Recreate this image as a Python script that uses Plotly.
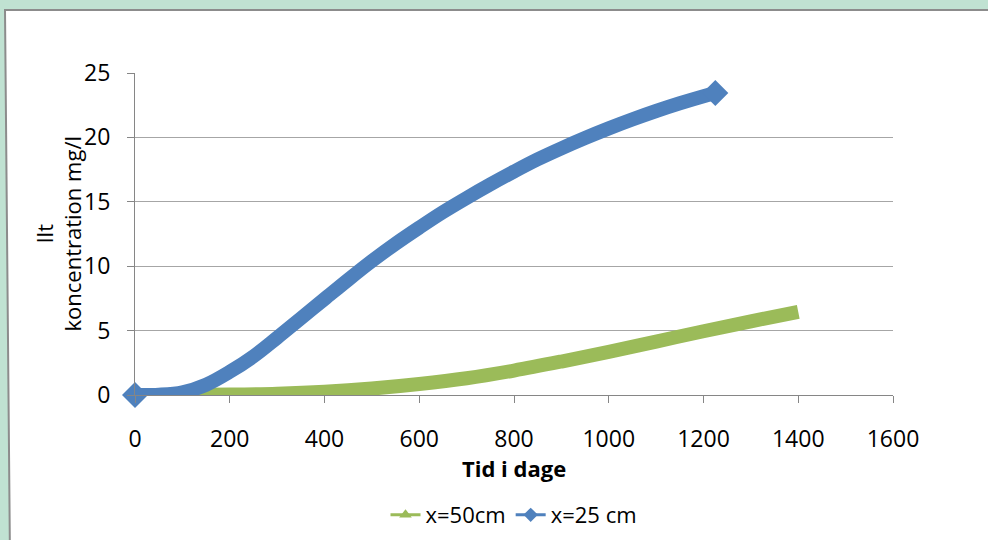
import plotly.graph_objects as go

# ---- data ----
days_50 = [0, 100, 200, 300, 400, 500, 600, 700, 800, 900, 1000, 1100, 1200, 1300, 1400]
conc_50 = [0, 0.0, 0.03, 0.1, 0.25, 0.5, 0.85, 1.3, 1.9, 2.6, 3.35, 4.15, 4.95, 5.72, 6.45]

days_25 = [0, 50, 100, 150, 200, 250, 300, 350, 400, 450, 500, 550, 600, 650, 700, 750,
           800, 850, 900, 950, 1000, 1050, 1100, 1150, 1200, 1225]
conc_25 = [0, 0.02, 0.2, 0.8, 1.8, 3.0, 4.45, 5.95, 7.45, 8.95, 10.4, 11.75, 13.0, 14.2, 15.3, 16.35,
           17.35, 18.3, 19.15, 19.95, 20.7, 21.4, 22.05, 22.65, 23.2, 23.45]

series_names = ["x=50cm", "x=25 cm"]
x_ticks = [0, 200, 400, 600, 800, 1000, 1200, 1400, 1600]
y_ticks = [0, 5, 10, 15, 20, 25]
x_title = "Tid i dage"
y_title = "Ilt<br>koncentration mg/l"

GREEN = "#9bbb59"
BLUE = "#4f81bd"
BG = "#c0e2d2"
FONT = "Open Sans, sans-serif"

W, H = 988, 540
L, R, T, B = 135, 893, 73, 395
PW, PH = R - L, B - T


def px(x):
    return (x - L) / PW


def py(y):
    return (B - y) / PH


fig = go.Figure()

n50 = len(days_50)
fig.add_trace(go.Scatter(
    x=days_50, y=conc_50, mode="lines+markers", showlegend=False, cliponaxis=False,
    line=dict(color=GREEN, width=14, shape="spline", smoothing=1.0),
    marker=dict(symbol="triangle-up", color=GREEN, opacity=1,
                size=[14] + [0] * (n50 - 1), line=dict(width=0)),
    hoverinfo="skip"))

n25 = len(days_25)
fig.add_trace(go.Scatter(
    x=days_25, y=conc_25, mode="lines+markers", showlegend=False, cliponaxis=False,
    line=dict(color=BLUE, width=14, shape="spline", smoothing=1.0),
    marker=dict(symbol="diamond", color=BLUE, opacity=1,
                size=[20] + [0] * (n25 - 2) + [20], line=dict(width=0)),
    hoverinfo="skip"))

# legend entries (thin lines with markers, as in the reference legend)
fig.add_trace(go.Scatter(x=[None], y=[None], mode="lines+markers", name=series_names[0],
                         line=dict(color=GREEN, width=3),
                         marker=dict(symbol="triangle-up", size=11, color=GREEN)))
fig.add_trace(go.Scatter(x=[None], y=[None], mode="lines+markers", name=series_names[1],
                         line=dict(color=BLUE, width=3),
                         marker=dict(symbol="diamond", size=11, color=BLUE)))

# white chart area with grey border on the green background
fig.add_shape(type="path", xref="paper", yref="paper", layer="below",
              path=f"M {px(5)},{py(10)} L {px(1000)},{py(10)} L {px(1000)},{py(560)} L {px(10)},{py(560)} Z",
              fillcolor="white", line=dict(color="#8c8c8c", width=2))

fig.update_layout(
    width=W, height=H,
    margin=dict(l=L, r=W - R, t=T, b=H - B, autoexpand=False),
    paper_bgcolor=BG, plot_bgcolor="white",
    font=dict(family=FONT, size=23, color="black"),
    showlegend=True,
    legend=dict(orientation="h", x=0.5, xanchor="center", y=py(515), yanchor="middle",
                font=dict(size=22), bgcolor="rgba(0,0,0,0)", itemwidth=30),
    xaxis=dict(range=[0, 1600], tickvals=x_ticks, showgrid=False, zeroline=False,
               showline=True, linecolor="#868686", linewidth=1,
               ticks="outside", ticklen=7, tickcolor="#868686",
               ticklabelstandoff=16, tickfont=dict(size=23)),
    yaxis=dict(range=[0, 25], tickvals=y_ticks, showgrid=True, gridcolor="#a6a6a6", gridwidth=1,
               zeroline=False, showline=True, linecolor="#868686", linewidth=1,
               ticks="outside", ticklen=7, tickcolor="#868686",
               ticklabelstandoff=12, tickfont=dict(size=23)),
    annotations=[
        dict(text=f"<b>{x_title}</b>", xref="paper", yref="paper", x=0.5, y=py(468),
             xanchor="center", yanchor="middle", showarrow=False, font=dict(size=22)),
        dict(text=y_title, xref="paper", yref="paper", x=px(57.5), y=0.5, textangle=-90,
             xanchor="center", yanchor="middle", showarrow=False, font=dict(size=22)),
    ],
)

fig.write_html("out.html")
